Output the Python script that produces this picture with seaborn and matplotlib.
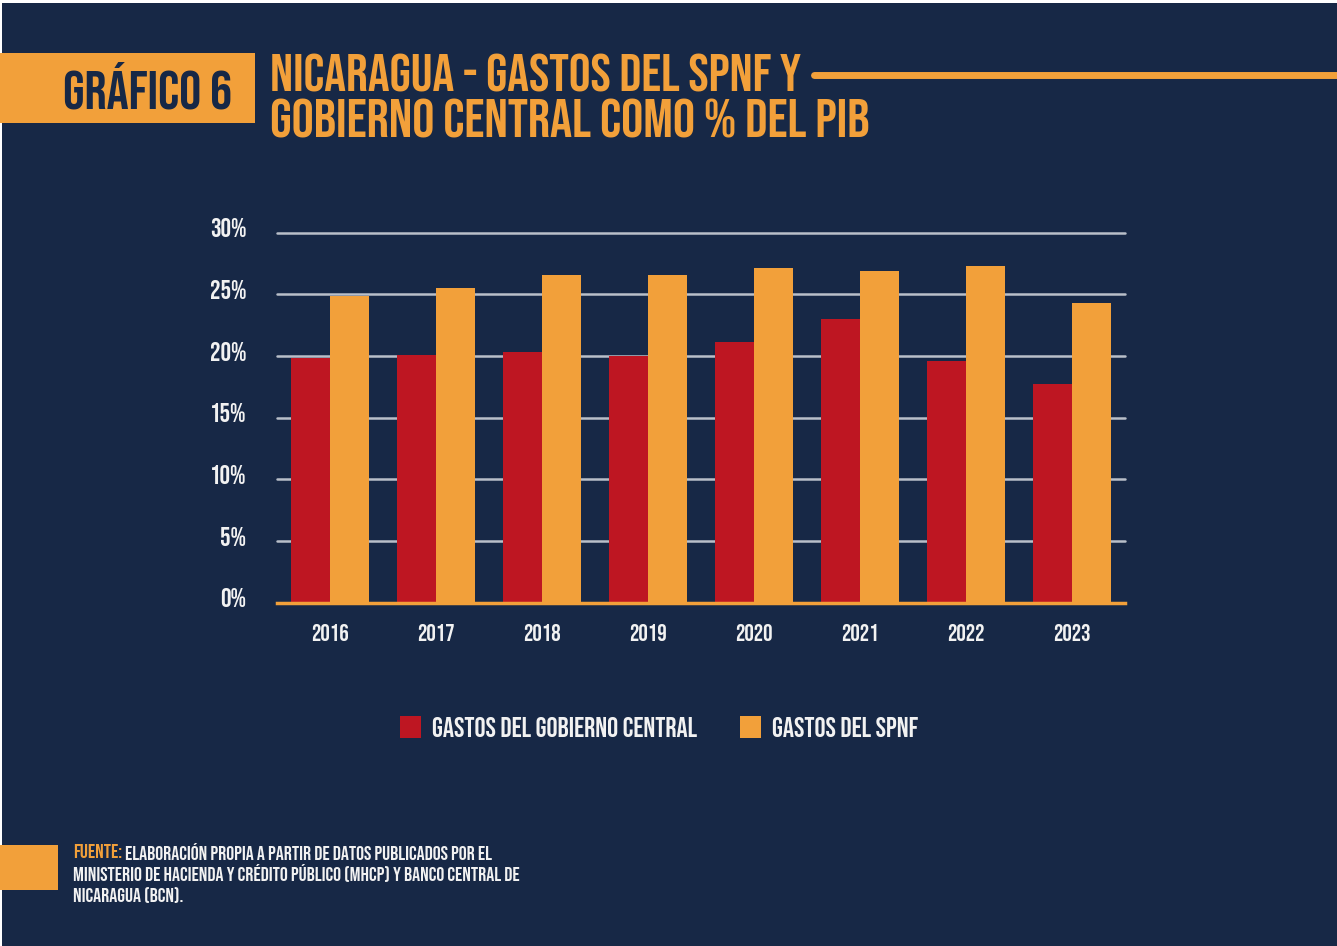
import matplotlib
matplotlib.use("Agg")
import matplotlib.pyplot as plt
import matplotlib.patches as mpatches
import matplotlib.transforms as mtransforms
from matplotlib import font_manager as fm
import seaborn as sns
import pandas as pd

# ---- data ----
years = ["2016", "2017", "2018", "2019", "2020", "2021", "2022", "2023"]
gobierno_central = [19.8, 20.1, 20.3, 20.0, 21.1, 23.0, 19.6, 17.7]
spnf = [24.9, 25.5, 26.6, 26.6, 27.1, 26.9, 27.3, 24.3]
series_names = ["GASTOS DEL GOBIERNO CENTRAL", "GASTOS DEL SPNF"]
yticks = [0, 5, 10, 15, 20, 25, 30]

NAVY = "#172846"
RED = "#BE1622"
ORANGE = "#F2A03A"
GRID = "#B9BFC9"
WHITE = "#F2F2F2"

df = pd.DataFrame({
    "year": years * 2,
    "value": gobierno_central + spnf,
    "serie": [series_names[0]] * len(years) + [series_names[1]] * len(years),
})

sns.set_theme(style="white")
available = {f.name for f in fm.fontManager.ttflist}
prefs = ["Bebas Neue", "Oswald", "Roboto Condensed", "Barlow Condensed", "Fjalla One",
         "Liberation Sans Narrow"]
main = next((p for p in prefs if p in available), "DejaVu Sans")
FONT = [main, "DejaVu Sans"]
plt.rcParams["font.family"] = FONT

W, H = 1337, 946
fig = plt.figure(figsize=(W / 100, H / 100), dpi=100, facecolor="white")
renderer = fig.canvas.get_renderer()

# navy background (leaves thin white border top/left)
fig.patches.append(mpatches.Rectangle((2 / W, 0), 1, 1 - 3 / H, transform=fig.transFigure,
                                      facecolor=NAVY, edgecolor="none", zorder=-2))

ax = fig.add_axes([277 / W, 1 - 602.7 / H, (1125 - 277) / W, (602.7 - 232.7) / H])
ax.set_facecolor("none")

sns.barplot(data=df, x="year", y="value", hue="serie", palette=[RED, ORANGE],
            width=0.73, saturation=1, ax=ax, legend=False, zorder=3, linewidth=0)

ax.set_ylim(0, 30)
ax.set_yticks(yticks)
ax.set_yticklabels([f"{t}%" for t in yticks])
ax.set_xlabel("")
ax.set_ylabel("")
for y in yticks[1:]:
    ax.axhline(y, color=GRID, lw=1.8, zorder=1, clip_on=False)
for s in ["top", "right", "left"]:
    ax.spines[s].set_visible(False)
ax.spines["bottom"].set_color(ORANGE)
ax.spines["bottom"].set_linewidth(2.5)
ax.spines["bottom"].set_zorder(4)
ax.tick_params(axis="both", length=0, colors=WHITE)
ax.tick_params(axis="x", pad=15, labelsize=17)
ax.tick_params(axis="y", pad=22, labelsize=19)
shift = mtransforms.ScaledTranslation(0, 5 / 100, fig.dpi_scale_trans)
for lbl in ax.get_yticklabels():
    lbl.set_transform(lbl.get_transform() + shift)


def fit_text(x, y, s, target_w, size, **kw):
    t = fig.text(x / W, 1 - y / H, s, fontsize=size, va="center", **kw)
    w = t.get_window_extent(renderer).width
    if w > 0:
        t.set_fontsize(size * target_w / w)
    return t


# legend
handles = [mpatches.Patch(facecolor=RED, edgecolor="none"),
           mpatches.Patch(facecolor=ORANGE, edgecolor="none")]
leg = fig.legend(handles, series_names, loc="center", bbox_to_anchor=(659 / W, 1 - 727 / H),
                 ncol=2, frameon=False, handlelength=0.75, handleheight=0.85,
                 handletextpad=0.4, columnspacing=1.55, labelcolor=WHITE,
                 prop={"family": FONT, "size": 20})

# header box
fig.patches.append(mpatches.Rectangle((0, 1 - 123 / H), 255 / W, 70 / H, transform=fig.transFigure,
                                      facecolor=ORANGE, edgecolor="none", zorder=1))
fit_text(63, 85, "GRÁFICO 6", 169, 31, color=NAVY, fontweight="bold", ha="left", family=FONT)

# title
fit_text(270, 73, "NICARAGUA - GASTOS DEL SPNF Y", 530, 31, color=ORANGE, fontweight="bold",
         ha="left", family=FONT)
fit_text(270, 119, "GOBIERNO CENTRAL COMO % DEL PIB", 598, 31, color=ORANGE, fontweight="bold",
         ha="left", family=FONT)
fig.add_artist(plt.Line2D([814 / W, 1], [1 - 75 / H, 1 - 75 / H], transform=fig.transFigure,
                          color=ORANGE, lw=5, solid_capstyle="round"))

# footer
fig.patches.append(mpatches.Rectangle((0, 1 - 890 / H), 58 / W, 45 / H, transform=fig.transFigure,
                                      facecolor=ORANGE, edgecolor="none", zorder=1))
fs = 9
t1 = fig.text(73 / W, 1 - 851 / H, "FUENTE:", color=ORANGE, fontsize=fs,
              ha="left", va="center", family=FONT)
t2 = fig.text(73 / W, 1 - 873 / H, "MINISTERIO DE HACIENDA Y CRÉDITO PÚBLICO (MHCP) Y BANCO CENTRAL DE",
              color=WHITE, fontsize=fs, ha="left", va="center", family=FONT)
w2 = t2.get_window_extent(renderer).width
fs = fs * 443 / w2
t2.set_fontsize(fs)
t1.set_fontsize(fs)
bb = t1.get_window_extent(renderer)
fig.text((bb.x1 + 3) / W, 1 - 851 / H, "ELABORACIÓN PROPIA A PARTIR DE DATOS PUBLICADOS POR EL",
         color=WHITE, fontsize=fs, ha="left", va="center", family=FONT)
fig.text(73 / W, 1 - 895 / H, "NICARAGUA (BCN).",
         color=WHITE, fontsize=fs, ha="left", va="center", family=FONT)

fig.savefig("out.png", dpi=100, facecolor=fig.get_facecolor())
